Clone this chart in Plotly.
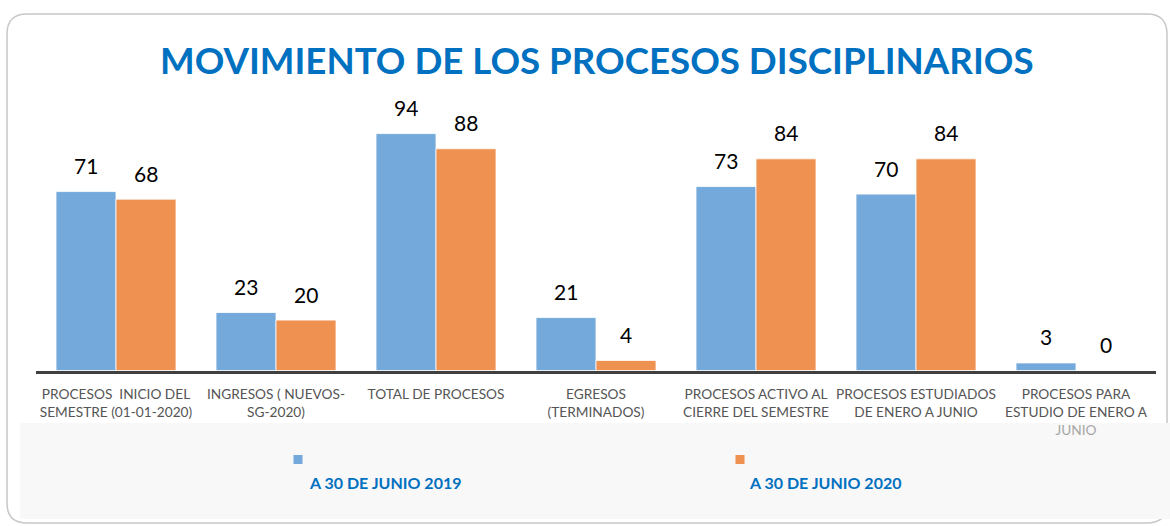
import plotly.graph_objects as go

# ---- data ----
categories = [
    "PROCESOS  INICIO DEL<br>SEMESTRE (01-01-2020)",
    "INGRESOS ( NUEVOS-<br>SG-2020)",
    "TOTAL DE PROCESOS<br> ",
    "EGRESOS<br>(TERMINADOS)",
    "PROCESOS ACTIVO AL<br>CIERRE DEL SEMESTRE",
    "PROCESOS ESTUDIADOS<br>DE ENERO A JUNIO",
    "PROCESOS PARA<br>ESTUDIO DE ENERO A<br><span style='color:#A6A6A6'>JUNIO</span>",
]
series_names = ["A 30 DE JUNIO 2019", "A 30 DE JUNIO 2020"]
values_2019 = [71, 23, 94, 21, 73, 70, 3]
values_2020 = [68, 20, 88, 4, 84, 84, 0]

colors = ["#74A9DB", "#EF9150"]
title_text = "MOVIMIENTO DE LOS PROCESOS DISCIPLINARIOS"

W, H = 1170, 526
FONT = "Lato"


def px(x):
    return x / W


def py(y):
    return 1 - y / H


x_idx = list(range(len(categories)))

fig = go.Figure()
for name, vals, col in zip(series_names, [values_2019, values_2020], colors):
    fig.add_trace(go.Bar(
        x=x_idx, y=vals, name=name,
        marker=dict(color=col, line=dict(color="white", width=0.8)),
        showlegend=False,
    ))

# value labels above each bar
annotations = []
offsets = [-30, 30]
for vals, dx in zip([values_2019, values_2020], offsets):
    for i, v in enumerate(vals):
        annotations.append(dict(
            x=i, y=v, xref="x", yref="y", text=str(v), showarrow=False,
            xshift=dx, yshift=26, yanchor="middle",
            font=dict(family=FONT, size=21, color="#000000"),
        ))

# legend: marker square above-left of each series name
legend_pos = [(298, 385), (740, 825)]
shapes = []
# rounded outer frame
x0, y0, x1, y1, r = px(7), py(14), px(1167), py(523), 20
rx, ry = r / W, r / H
frame = (f"M {x0+rx},{y0} L {x1-rx},{y0} Q {x1},{y0} {x1},{y0-ry} "
         f"L {x1},{y1+ry} Q {x1},{y1} {x1-rx},{y1} "
         f"L {x0+rx},{y1} Q {x0},{y1} {x0},{y1+ry} "
         f"L {x0},{y0-ry} Q {x0},{y0} {x0+rx},{y0} Z")
shapes.append(dict(type="path", path=frame, xref="paper", yref="paper",
                   line=dict(color="#C8C8C8", width=1.5), fillcolor="white",
                   layer="below"))
# light band behind the legend
shapes.append(dict(type="rect", xref="paper", yref="paper",
                   x0=px(20), x1=px(1170), y0=py(519), y1=py(423),
                   line=dict(width=0), fillcolor="#F8F8F8", layer="below"))
for (mx, tx), name, col in zip(legend_pos, series_names, colors):
    shapes.append(dict(type="rect", xref="paper", yref="paper",
                       x0=px(mx - 4.5), x1=px(mx + 4.5), y0=py(464), y1=py(455),
                       line=dict(width=0), fillcolor=col))
    annotations.append(dict(
        x=px(tx), y=py(482), xref="paper", yref="paper", text=f"<b>{name}</b>",
        showarrow=False, xanchor="center", yanchor="middle",
        font=dict(family=FONT, size=16, color="#0070C0"),
    ))

annotations.append(dict(
    x=px(597), y=py(60), xref="paper", yref="paper", text=f"<b>{title_text}</b>",
    showarrow=False, xanchor="center", yanchor="middle",
    font=dict(family=FONT, size=36.7, color="#0070C0"),
))

fig.update_layout(
    width=W, height=H,
    margin=dict(l=0, r=0, t=0, b=0),
    paper_bgcolor="white", plot_bgcolor="rgba(0,0,0,0)",
    barmode="group", bargap=0.25, bargroupgap=0,
    shapes=shapes, annotations=annotations,
    xaxis=dict(
        domain=[px(36), px(1156)],
        tickmode="array", tickvals=x_idx, ticktext=categories,
        range=[-0.5, len(categories) - 0.5],
        showline=True, linecolor="#404040", linewidth=3,
        showgrid=False, zeroline=False, ticks="",
        ticklabelstandoff=9,
        tickfont=dict(family=FONT, size=13.7, color="#555555"),
    ),
    yaxis=dict(
        domain=[py(370.5), py(100)],
        range=[0, (370.5 - 100) / 2.52],
        visible=False, showgrid=False, zeroline=False,
    ),
)

fig.write_html("out.html")
